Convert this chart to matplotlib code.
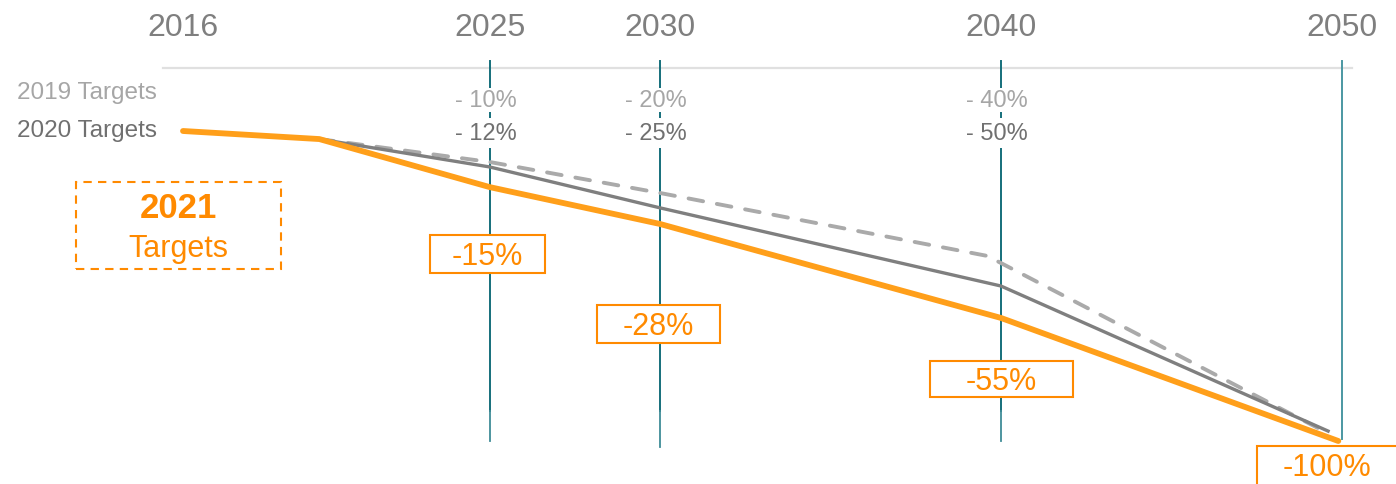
import matplotlib
matplotlib.use('Agg')
import matplotlib.pyplot as plt
from matplotlib.patches import Rectangle

plt.rcParams['font.family'] = ['Liberation Sans Narrow', 'Liberation Sans', 'DejaVu Sans']

# data (index, 2016 = 100)
years_2021 = [2016, 2020, 2025, 2030, 2040, 2049.9]
vals_2021 = [100, 97.4, 81.9, 70.0, 39.7, 0]
years_2020 = [2020, 2025, 2030, 2040, 2049.6]
vals_2020 = [97.4, 88.4, 75.2, 50.0, 3.2]
years_2019 = [2020, 2025, 2030, 2039.6, 2049.3]
vals_2019 = [97.4, 90.0, 80.0, 59.7, 4.2]

top_years = [2016, 2025, 2030, 2040, 2050]
mark_years = [2025, 2030, 2040, 2050]
pct_2019 = ['- 10%', '- 20%', '- 40%']
pct_2020 = ['- 12%', '- 25%', '- 50%']
pct_2021 = ['-15%', '-28%', '-55%', '-100%']

ORANGE_LINE = '#ff9f1a'
ORANGE = '#ff8a00'
TEAL = '#156f7b'
TEAL_LIGHT = '#3f8c97'

W, H = 1396, 485
fig = plt.figure(figsize=(W / 100, H / 100), dpi=100)
ax = fig.add_axes([0, 0, 1, 1])

# pixel -> data helpers, for placing the annotations
def px(p):
    return 2016 + (p - 183) / 34.08

def py(p):
    return (442 - p) / 3.1

ax.set_xlim(px(0), px(W))
ax.set_ylim(py(H), py(0))
ax.axis('off')

# top rule and years
ax.plot([px(163), px(1352)], [py(69), py(69)], color='#e0e0e0', lw=1.6, zorder=1)
for yr in top_years:
    ax.text(yr, py(28), str(yr), ha='center', va='center', fontsize=23, color='#7f7f7f')

# vertical markers
bottoms = [442, 448, 442, 440]
for yr, b in zip(mark_years, bottoms):
    if yr == 2050:
        ax.plot([yr, yr], [py(62), py(b)], color='#4b97a2', lw=1.4, zorder=1)
    else:
        ax.plot([yr, yr], [py(62), py(412)], color=TEAL, lw=1.4, zorder=1)
        ax.plot([yr, yr], [py(412), py(b)], color=TEAL_LIGHT, lw=1.3, zorder=1)

# row labels
ax.text(px(157), py(93), '2019 Targets', ha='right', va='center', fontsize=17.5, color='#a6a6a6')
ax.text(px(157), py(131), '2020 Targets', ha='right', va='center', fontsize=17.5, color='#707070')
for yr, t in zip(mark_years, pct_2019):
    ax.text(yr - 0.12, py(101), t, ha='center', va='center', fontsize=17, color='#a6a6a6', zorder=3,
            bbox=dict(facecolor='white', edgecolor='none', pad=1))
for yr, t in zip(mark_years, pct_2020):
    ax.text(yr - 0.12, py(134), t, ha='center', va='center', fontsize=17, color='#707070', zorder=3,
            bbox=dict(facecolor='white', edgecolor='none', pad=3))

# lines
ax.plot(years_2019, vals_2019, color='#aaaaaa', lw=2.8, dashes=(3.8, 3.6),
        dash_capstyle='round', zorder=4)
ax.plot(years_2020, vals_2020, color='#7f7f7f', lw=2.4, zorder=5)
ax.plot(years_2021, vals_2021, color=ORANGE_LINE, lw=4.2, solid_capstyle='round', zorder=6)

# 2021 boxes
boxes = [(430, 545, 236, 274), (597, 720, 306, 344), (930, 1073, 362, 398), (1257, 1420, 447, 500)]
for yr, t, (x0, x1, y0, y1) in zip(mark_years, pct_2021, boxes):
    ax.add_patch(Rectangle((px(x0), py(y1)), px(x1) - px(x0), py(y0) - py(y1),
                           facecolor='white', edgecolor=ORANGE, lw=1.5, zorder=7))
    if yr == 2050:
        cx, cy = px(1327), py(468)
    else:
        cx, cy = px((x0 + x1) / 2), py((y0 + y1) / 2 + 2)
    ax.text(cx, cy, t, ha='center', va='center', fontsize=22, color=ORANGE, zorder=8)

ax.add_patch(Rectangle((px(76), py(270)), px(281) - px(76), py(183) - py(270),
                       facecolor='none', edgecolor=ORANGE, lw=1.5, ls=(0, (4, 3)), zorder=7))
ax.text(px(178), py(209), '2021', ha='center', va='center', fontsize=25, fontweight='bold', color=ORANGE)
ax.text(px(178), py(249), 'Targets', ha='center', va='center', fontsize=22, color=ORANGE)

fig.savefig('out.png', dpi=100)
